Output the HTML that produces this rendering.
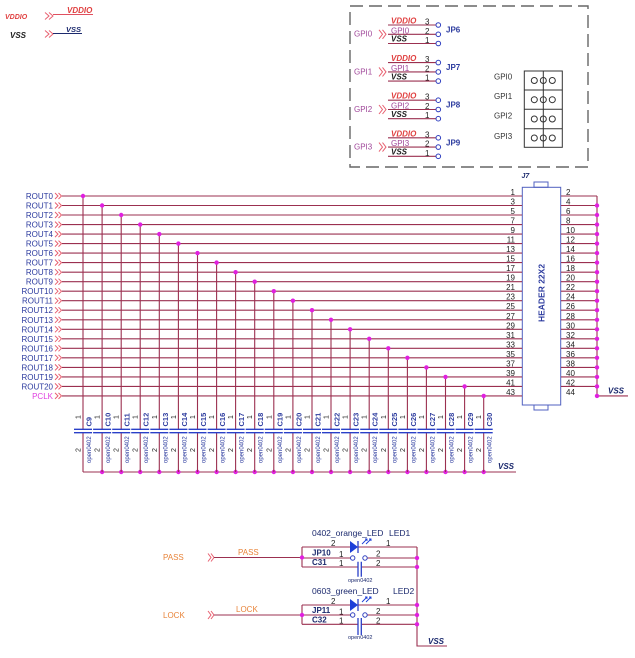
<!DOCTYPE html>
<html><head><meta charset="utf-8"><style>
body{margin:0;background:#fff}
svg{display:block;font-family:"Liberation Sans",sans-serif}
.w{stroke:#9b3050;stroke-width:1.1;fill:none}
.pl{stroke:#2a40c8;stroke-width:1.3;fill:none}
.dt{fill:#e020e0}
.rl{font-size:8px;fill:#2b3a9e;text-anchor:end}
.pn{font-size:8px;fill:#222}
.p7{font-size:7px;fill:#222}
.cl{font-size:7.5px;fill:#2b3a9e;font-weight:bold}
.on{font-size:6px;fill:#2b3a9e}
.ch{stroke:#e86070;stroke-width:1;fill:none}
.bi{font-weight:bold;font-style:italic}
.nv{fill:#1c2a6e}
.pu{fill:#a0489a;font-size:8px}
.or{fill:#e8843a;font-size:8px}
.cir{stroke:#3040c0;stroke-width:1;fill:#fff}
</style></head><body>
<svg width="635" height="658" viewBox="0 0 635 658" xmlns="http://www.w3.org/2000/svg">
<defs>
<path id="ch" class="ch" d="M0 -3L3 0L0 3M3.5 -3L6.5 0L3.5 3"/>
<path id="chb" class="ch" d="M0 -4.5L3.5 0L0 4.5M3.5 -4.5L7 0L3.5 4.5"/>
<g id="cap"><path class="w" d="M0 432.7V472"/><path class="pl" d="M-9 429.3H9M-9 432.7H9"/></g>
</defs>
<rect width="635" height="658" fill="#fff"/>

<!-- top-left -->
<text x="5" y="19" class="bi" style="font-size:7px;fill:#e04040">VDDIO</text>
<path class="ch" d="M45 12.5L49 16L45 19.5M49 12.5L53 16L49 19.5"/>
<path class="w" style="stroke:#e05060" d="M53 14.5H93"/>
<text x="67" y="13" class="bi" style="font-size:8px;fill:#e04040">VDDIO</text>
<text x="10" y="38" class="bi" style="font-size:8px;fill:#222">VSS</text>
<path class="ch" d="M45 30.5L49 34L45 37.5M49 30.5L53 34L49 37.5"/>
<path class="w" style="stroke:#1c2a6e" d="M53 33.5H82"/>
<text x="66" y="32" class="bi nv" style="font-size:7.5px">VSS</text>

<!-- dashed box -->
<rect x="350" y="6" width="238" height="161" fill="none" stroke="#666" stroke-width="1.4" stroke-dasharray="13 6"/>

<g transform="translate(0,25)">
<text x="354" y="11.7" class="pu">GPI0</text><use href="#chb" x="379" y="9.3"/>
<path class="w" d="M388 0H436M388 9.3H436M388 18.5H436"/>
<text x="391" y="-1.5" class="bi" style="font-size:8px;fill:#e04040">VDDIO</text>
<text x="391" y="8.3" class="pu">GPI0</text>
<text x="391" y="16.7" class="bi" style="font-size:8px;fill:#222">VSS</text>
<text x="425" y="-0.5" class="pn">3</text><text x="425" y="8.8" class="pn">2</text><text x="425" y="18" class="pn">1</text>
<circle cx="438.3" cy="0" r="2.3" class="cir"/><circle cx="438.3" cy="9.3" r="2.3" class="cir"/><circle cx="438.3" cy="18.5" r="2.3" class="cir"/>
<text x="446" y="7.5" style="font-size:8px;font-weight:bold;fill:#2b3a9e">JP6</text>
</g>
<g transform="translate(0,62.6)">
<text x="354" y="11.7" class="pu">GPI1</text><use href="#chb" x="379" y="9.3"/>
<path class="w" d="M388 0H436M388 9.3H436M388 18.5H436"/>
<text x="391" y="-1.5" class="bi" style="font-size:8px;fill:#e04040">VDDIO</text>
<text x="391" y="8.3" class="pu">GPI1</text>
<text x="391" y="16.7" class="bi" style="font-size:8px;fill:#222">VSS</text>
<text x="425" y="-0.5" class="pn">3</text><text x="425" y="8.8" class="pn">2</text><text x="425" y="18" class="pn">1</text>
<circle cx="438.3" cy="0" r="2.3" class="cir"/><circle cx="438.3" cy="9.3" r="2.3" class="cir"/><circle cx="438.3" cy="18.5" r="2.3" class="cir"/>
<text x="446" y="7.5" style="font-size:8px;font-weight:bold;fill:#2b3a9e">JP7</text>
</g>
<g transform="translate(0,100.2)">
<text x="354" y="11.7" class="pu">GPI2</text><use href="#chb" x="379" y="9.3"/>
<path class="w" d="M388 0H436M388 9.3H436M388 18.5H436"/>
<text x="391" y="-1.5" class="bi" style="font-size:8px;fill:#e04040">VDDIO</text>
<text x="391" y="8.3" class="pu">GPI2</text>
<text x="391" y="16.7" class="bi" style="font-size:8px;fill:#222">VSS</text>
<text x="425" y="-0.5" class="pn">3</text><text x="425" y="8.8" class="pn">2</text><text x="425" y="18" class="pn">1</text>
<circle cx="438.3" cy="0" r="2.3" class="cir"/><circle cx="438.3" cy="9.3" r="2.3" class="cir"/><circle cx="438.3" cy="18.5" r="2.3" class="cir"/>
<text x="446" y="7.5" style="font-size:8px;font-weight:bold;fill:#2b3a9e">JP8</text>
</g>
<g transform="translate(0,137.8)">
<text x="354" y="11.7" class="pu">GPI3</text><use href="#chb" x="379" y="9.3"/>
<path class="w" d="M388 0H436M388 9.3H436M388 18.5H436"/>
<text x="391" y="-1.5" class="bi" style="font-size:8px;fill:#e04040">VDDIO</text>
<text x="391" y="8.3" class="pu">GPI3</text>
<text x="391" y="16.7" class="bi" style="font-size:8px;fill:#222">VSS</text>
<text x="425" y="-0.5" class="pn">3</text><text x="425" y="8.8" class="pn">2</text><text x="425" y="18" class="pn">1</text>
<circle cx="438.3" cy="0" r="2.3" class="cir"/><circle cx="438.3" cy="9.3" r="2.3" class="cir"/><circle cx="438.3" cy="18.5" r="2.3" class="cir"/>
<text x="446" y="7.5" style="font-size:8px;font-weight:bold;fill:#2b3a9e">JP9</text>
</g>

<!-- jumper table -->
<text x="494" y="79.5" class="pn" style="fill:#333">GPI0</text>
<text x="494" y="99" class="pn" style="fill:#333">GPI1</text>
<text x="494" y="118.5" class="pn" style="fill:#333">GPI2</text>
<text x="494" y="139" class="pn" style="fill:#333">GPI3</text>
<rect x="524.3" y="71" width="38" height="76.3" fill="none" stroke="#333" stroke-width="1"/>
<path d="M524.3 90H562.3M524.3 109.3H562.3M524.3 128.7H562.3" stroke="#333" stroke-width="1" fill="none"/>
<g fill="#fff" stroke="#333" stroke-width="1">
<circle cx="534.3" cy="80.5" r="3"/><circle cx="543.3" cy="80.5" r="3"/><circle cx="552.3" cy="80.5" r="3"/>
<circle cx="534.3" cy="99.7" r="3"/><circle cx="543.3" cy="99.7" r="3"/><circle cx="552.3" cy="99.7" r="3"/>
<circle cx="534.3" cy="119" r="3"/><circle cx="543.3" cy="119" r="3"/><circle cx="552.3" cy="119" r="3"/>
<circle cx="534.3" cy="138" r="3"/><circle cx="543.3" cy="138" r="3"/><circle cx="552.3" cy="138" r="3"/>
</g>
<path d="M543.3 71V147.3" stroke="#333" stroke-width="1"/>

<!-- J7 header -->
<text x="521.5" y="178" class="bi nv" style="font-size:7px">J7</text>
<rect x="534" y="182" width="14" height="5.3" fill="#fff" stroke="#5060c0" stroke-width="1"/>
<rect x="534" y="405" width="14" height="5" fill="#fff" stroke="#5060c0" stroke-width="1"/>
<rect x="522.3" y="187.3" width="38.4" height="217.7" fill="none" stroke="#5060c0" stroke-width="1"/>
<text transform="translate(544.5,293) rotate(-90)" text-anchor="middle" style="font-size:8.5px;font-weight:bold;fill:#2b3a9e">HEADER 22X2</text>

<!-- main horizontal wires -->
<path class="w" d="M62 196H522M62 205.5H522M62 215H522M62 224.6H522M62 234.1H522M62 243.6H522M62 253.1H522M62 262.6H522M62 272.2H522M62 281.7H522M62 291.2H522M62 300.7H522M62 310.2H522M62 319.8H522M62 329.3H522M62 338.8H522M62 348.3H522M62 357.8H522M62 367.4H522M62 376.9H522M62 386.4H522M62 395.9H522"/>
<path class="w" d="M561 196H597M561 205.5H597M561 215H597M561 224.6H597M561 234.1H597M561 243.6H597M561 253.1H597M561 262.6H597M561 272.2H597M561 281.7H597M561 291.2H597M561 300.7H597M561 310.2H597M561 319.8H597M561 329.3H597M561 338.8H597M561 348.3H597M561 357.8H597M561 367.4H597M561 376.9H597M561 386.4H597M597 196V395.9H628"/>
<text x="608" y="393.5" class="bi nv" style="font-size:8px">VSS</text>

<!-- rows -->
<g transform="translate(0,196)"><text x="53" y="3" class="rl">ROUT0</text><use href="#ch" x="55"/><text x="515" y="-1" class="pn" text-anchor="end">1</text><text x="566" y="-1" class="pn">2</text></g>
<g transform="translate(0,205.5)"><text x="53" y="3" class="rl">ROUT1</text><use href="#ch" x="55"/><text x="515" y="-1" class="pn" text-anchor="end">3</text><text x="566" y="-1" class="pn">4</text><circle cx="597" r="2.2" class="dt"/></g>
<g transform="translate(0,215)"><text x="53" y="3" class="rl">ROUT2</text><use href="#ch" x="55"/><text x="515" y="-1" class="pn" text-anchor="end">5</text><text x="566" y="-1" class="pn">6</text><circle cx="597" r="2.2" class="dt"/></g>
<g transform="translate(0,224.6)"><text x="53" y="3" class="rl">ROUT3</text><use href="#ch" x="55"/><text x="515" y="-1" class="pn" text-anchor="end">7</text><text x="566" y="-1" class="pn">8</text><circle cx="597" r="2.2" class="dt"/></g>
<g transform="translate(0,234.1)"><text x="53" y="3" class="rl">ROUT4</text><use href="#ch" x="55"/><text x="515" y="-1" class="pn" text-anchor="end">9</text><text x="566" y="-1" class="pn">10</text><circle cx="597" r="2.2" class="dt"/></g>
<g transform="translate(0,243.6)"><text x="53" y="3" class="rl">ROUT5</text><use href="#ch" x="55"/><text x="515" y="-1" class="pn" text-anchor="end">11</text><text x="566" y="-1" class="pn">12</text><circle cx="597" r="2.2" class="dt"/></g>
<g transform="translate(0,253.1)"><text x="53" y="3" class="rl">ROUT6</text><use href="#ch" x="55"/><text x="515" y="-1" class="pn" text-anchor="end">13</text><text x="566" y="-1" class="pn">14</text><circle cx="597" r="2.2" class="dt"/></g>
<g transform="translate(0,262.6)"><text x="53" y="3" class="rl">ROUT7</text><use href="#ch" x="55"/><text x="515" y="-1" class="pn" text-anchor="end">15</text><text x="566" y="-1" class="pn">16</text><circle cx="597" r="2.2" class="dt"/></g>
<g transform="translate(0,272.2)"><text x="53" y="3" class="rl">ROUT8</text><use href="#ch" x="55"/><text x="515" y="-1" class="pn" text-anchor="end">17</text><text x="566" y="-1" class="pn">18</text><circle cx="597" r="2.2" class="dt"/></g>
<g transform="translate(0,281.7)"><text x="53" y="3" class="rl">ROUT9</text><use href="#ch" x="55"/><text x="515" y="-1" class="pn" text-anchor="end">19</text><text x="566" y="-1" class="pn">20</text><circle cx="597" r="2.2" class="dt"/></g>
<g transform="translate(0,291.2)"><text x="53" y="3" class="rl">ROUT10</text><use href="#ch" x="55"/><text x="515" y="-1" class="pn" text-anchor="end">21</text><text x="566" y="-1" class="pn">22</text><circle cx="597" r="2.2" class="dt"/></g>
<g transform="translate(0,300.7)"><text x="53" y="3" class="rl">ROUT11</text><use href="#ch" x="55"/><text x="515" y="-1" class="pn" text-anchor="end">23</text><text x="566" y="-1" class="pn">24</text><circle cx="597" r="2.2" class="dt"/></g>
<g transform="translate(0,310.2)"><text x="53" y="3" class="rl">ROUT12</text><use href="#ch" x="55"/><text x="515" y="-1" class="pn" text-anchor="end">25</text><text x="566" y="-1" class="pn">26</text><circle cx="597" r="2.2" class="dt"/></g>
<g transform="translate(0,319.8)"><text x="53" y="3" class="rl">ROUT13</text><use href="#ch" x="55"/><text x="515" y="-1" class="pn" text-anchor="end">27</text><text x="566" y="-1" class="pn">28</text><circle cx="597" r="2.2" class="dt"/></g>
<g transform="translate(0,329.3)"><text x="53" y="3" class="rl">ROUT14</text><use href="#ch" x="55"/><text x="515" y="-1" class="pn" text-anchor="end">29</text><text x="566" y="-1" class="pn">30</text><circle cx="597" r="2.2" class="dt"/></g>
<g transform="translate(0,338.8)"><text x="53" y="3" class="rl">ROUT15</text><use href="#ch" x="55"/><text x="515" y="-1" class="pn" text-anchor="end">31</text><text x="566" y="-1" class="pn">32</text><circle cx="597" r="2.2" class="dt"/></g>
<g transform="translate(0,348.3)"><text x="53" y="3" class="rl">ROUT16</text><use href="#ch" x="55"/><text x="515" y="-1" class="pn" text-anchor="end">33</text><text x="566" y="-1" class="pn">34</text><circle cx="597" r="2.2" class="dt"/></g>
<g transform="translate(0,357.8)"><text x="53" y="3" class="rl">ROUT17</text><use href="#ch" x="55"/><text x="515" y="-1" class="pn" text-anchor="end">35</text><text x="566" y="-1" class="pn">36</text><circle cx="597" r="2.2" class="dt"/></g>
<g transform="translate(0,367.4)"><text x="53" y="3" class="rl">ROUT18</text><use href="#ch" x="55"/><text x="515" y="-1" class="pn" text-anchor="end">37</text><text x="566" y="-1" class="pn">38</text><circle cx="597" r="2.2" class="dt"/></g>
<g transform="translate(0,376.9)"><text x="53" y="3" class="rl">ROUT19</text><use href="#ch" x="55"/><text x="515" y="-1" class="pn" text-anchor="end">39</text><text x="566" y="-1" class="pn">40</text><circle cx="597" r="2.2" class="dt"/></g>
<g transform="translate(0,386.4)"><text x="53" y="3" class="rl">ROUT20</text><use href="#ch" x="55"/><text x="515" y="-1" class="pn" text-anchor="end">41</text><text x="566" y="-1" class="pn">42</text><circle cx="597" r="2.2" class="dt"/></g>
<g transform="translate(0,395.9)"><text x="53" y="3" class="rl" style="fill:#e040e0">PCLK</text><use href="#ch" x="55"/><text x="515" y="-1" class="pn" text-anchor="end">43</text><text x="566" y="-1" class="pn">44</text><circle cx="597" r="2.2" class="dt"/></g>

<!-- vertical drops -->
<path class="w" d="M83 196V429.3M102.1 205.5V429.3M121.2 215V429.3M140.2 224.6V429.3M159.3 234.1V429.3M178.4 243.6V429.3M197.5 253.1V429.3M216.6 262.6V429.3M235.6 272.2V429.3M254.7 281.7V429.3M273.8 291.2V429.3M292.9 300.7V429.3M312 310.2V429.3M331 319.8V429.3M350.1 329.3V429.3M369.2 338.8V429.3M388.3 348.3V429.3M407.4 357.8V429.3M426.4 367.4V429.3M445.5 376.9V429.3M464.6 386.4V429.3M483.7 395.9V429.3"/>
<path class="w" d="M83 472H516"/>
<text x="498" y="469" class="bi nv" style="font-size:8px">VSS</text>
<g class="dt">
<circle cx="83" cy="196" r="2.2"/><circle cx="102.1" cy="205.5" r="2.2"/><circle cx="121.2" cy="215" r="2.2"/><circle cx="140.2" cy="224.6" r="2.2"/><circle cx="159.3" cy="234.1" r="2.2"/><circle cx="178.4" cy="243.6" r="2.2"/><circle cx="197.5" cy="253.1" r="2.2"/><circle cx="216.6" cy="262.6" r="2.2"/><circle cx="235.6" cy="272.2" r="2.2"/><circle cx="254.7" cy="281.7" r="2.2"/><circle cx="273.8" cy="291.2" r="2.2"/><circle cx="292.9" cy="300.7" r="2.2"/><circle cx="312" cy="310.2" r="2.2"/><circle cx="331" cy="319.8" r="2.2"/><circle cx="350.1" cy="329.3" r="2.2"/><circle cx="369.2" cy="338.8" r="2.2"/><circle cx="388.3" cy="348.3" r="2.2"/><circle cx="407.4" cy="357.8" r="2.2"/><circle cx="426.4" cy="367.4" r="2.2"/><circle cx="445.5" cy="376.9" r="2.2"/><circle cx="464.6" cy="386.4" r="2.2"/><circle cx="483.7" cy="395.9" r="2.2"/>
<circle cx="102.1" cy="472" r="2.2"/><circle cx="121.2" cy="472" r="2.2"/><circle cx="140.2" cy="472" r="2.2"/><circle cx="159.3" cy="472" r="2.2"/><circle cx="178.4" cy="472" r="2.2"/><circle cx="197.5" cy="472" r="2.2"/><circle cx="216.6" cy="472" r="2.2"/><circle cx="235.6" cy="472" r="2.2"/><circle cx="254.7" cy="472" r="2.2"/><circle cx="273.8" cy="472" r="2.2"/><circle cx="292.9" cy="472" r="2.2"/><circle cx="312" cy="472" r="2.2"/><circle cx="331" cy="472" r="2.2"/><circle cx="350.1" cy="472" r="2.2"/><circle cx="369.2" cy="472" r="2.2"/><circle cx="388.3" cy="472" r="2.2"/><circle cx="407.4" cy="472" r="2.2"/><circle cx="426.4" cy="472" r="2.2"/><circle cx="445.5" cy="472" r="2.2"/><circle cx="464.6" cy="472" r="2.2"/><circle cx="483.7" cy="472" r="2.2"/>
</g>

<!-- capacitors -->
<g transform="translate(83,0)"><use href="#cap"/><text class="cl" transform="translate(8.5,426.5) rotate(-90)">C9</text><text class="on" transform="translate(8,463) rotate(-90)">open0402</text><text class="p7" transform="translate(-2.5,419) rotate(-90)">1</text><text class="p7" transform="translate(-2.5,452) rotate(-90)">2</text></g>
<g transform="translate(102.1,0)"><use href="#cap"/><text class="cl" transform="translate(8.5,426.5) rotate(-90)">C10</text><text class="on" transform="translate(8,463) rotate(-90)">open0402</text><text class="p7" transform="translate(-2.5,419) rotate(-90)">1</text><text class="p7" transform="translate(-2.5,452) rotate(-90)">2</text></g>
<g transform="translate(121.2,0)"><use href="#cap"/><text class="cl" transform="translate(8.5,426.5) rotate(-90)">C11</text><text class="on" transform="translate(8,463) rotate(-90)">open0402</text><text class="p7" transform="translate(-2.5,419) rotate(-90)">1</text><text class="p7" transform="translate(-2.5,452) rotate(-90)">2</text></g>
<g transform="translate(140.2,0)"><use href="#cap"/><text class="cl" transform="translate(8.5,426.5) rotate(-90)">C12</text><text class="on" transform="translate(8,463) rotate(-90)">open0402</text><text class="p7" transform="translate(-2.5,419) rotate(-90)">1</text><text class="p7" transform="translate(-2.5,452) rotate(-90)">2</text></g>
<g transform="translate(159.3,0)"><use href="#cap"/><text class="cl" transform="translate(8.5,426.5) rotate(-90)">C13</text><text class="on" transform="translate(8,463) rotate(-90)">open0402</text><text class="p7" transform="translate(-2.5,419) rotate(-90)">1</text><text class="p7" transform="translate(-2.5,452) rotate(-90)">2</text></g>
<g transform="translate(178.4,0)"><use href="#cap"/><text class="cl" transform="translate(8.5,426.5) rotate(-90)">C14</text><text class="on" transform="translate(8,463) rotate(-90)">open0402</text><text class="p7" transform="translate(-2.5,419) rotate(-90)">1</text><text class="p7" transform="translate(-2.5,452) rotate(-90)">2</text></g>
<g transform="translate(197.5,0)"><use href="#cap"/><text class="cl" transform="translate(8.5,426.5) rotate(-90)">C15</text><text class="on" transform="translate(8,463) rotate(-90)">open0402</text><text class="p7" transform="translate(-2.5,419) rotate(-90)">1</text><text class="p7" transform="translate(-2.5,452) rotate(-90)">2</text></g>
<g transform="translate(216.6,0)"><use href="#cap"/><text class="cl" transform="translate(8.5,426.5) rotate(-90)">C16</text><text class="on" transform="translate(8,463) rotate(-90)">open0402</text><text class="p7" transform="translate(-2.5,419) rotate(-90)">1</text><text class="p7" transform="translate(-2.5,452) rotate(-90)">2</text></g>
<g transform="translate(235.6,0)"><use href="#cap"/><text class="cl" transform="translate(8.5,426.5) rotate(-90)">C17</text><text class="on" transform="translate(8,463) rotate(-90)">open0402</text><text class="p7" transform="translate(-2.5,419) rotate(-90)">1</text><text class="p7" transform="translate(-2.5,452) rotate(-90)">2</text></g>
<g transform="translate(254.7,0)"><use href="#cap"/><text class="cl" transform="translate(8.5,426.5) rotate(-90)">C18</text><text class="on" transform="translate(8,463) rotate(-90)">open0402</text><text class="p7" transform="translate(-2.5,419) rotate(-90)">1</text><text class="p7" transform="translate(-2.5,452) rotate(-90)">2</text></g>
<g transform="translate(273.8,0)"><use href="#cap"/><text class="cl" transform="translate(8.5,426.5) rotate(-90)">C19</text><text class="on" transform="translate(8,463) rotate(-90)">open0402</text><text class="p7" transform="translate(-2.5,419) rotate(-90)">1</text><text class="p7" transform="translate(-2.5,452) rotate(-90)">2</text></g>
<g transform="translate(292.9,0)"><use href="#cap"/><text class="cl" transform="translate(8.5,426.5) rotate(-90)">C20</text><text class="on" transform="translate(8,463) rotate(-90)">open0402</text><text class="p7" transform="translate(-2.5,419) rotate(-90)">1</text><text class="p7" transform="translate(-2.5,452) rotate(-90)">2</text></g>
<g transform="translate(312,0)"><use href="#cap"/><text class="cl" transform="translate(8.5,426.5) rotate(-90)">C21</text><text class="on" transform="translate(8,463) rotate(-90)">open0402</text><text class="p7" transform="translate(-2.5,419) rotate(-90)">1</text><text class="p7" transform="translate(-2.5,452) rotate(-90)">2</text></g>
<g transform="translate(331,0)"><use href="#cap"/><text class="cl" transform="translate(8.5,426.5) rotate(-90)">C22</text><text class="on" transform="translate(8,463) rotate(-90)">open0402</text><text class="p7" transform="translate(-2.5,419) rotate(-90)">1</text><text class="p7" transform="translate(-2.5,452) rotate(-90)">2</text></g>
<g transform="translate(350.1,0)"><use href="#cap"/><text class="cl" transform="translate(8.5,426.5) rotate(-90)">C23</text><text class="on" transform="translate(8,463) rotate(-90)">open0402</text><text class="p7" transform="translate(-2.5,419) rotate(-90)">1</text><text class="p7" transform="translate(-2.5,452) rotate(-90)">2</text></g>
<g transform="translate(369.2,0)"><use href="#cap"/><text class="cl" transform="translate(8.5,426.5) rotate(-90)">C24</text><text class="on" transform="translate(8,463) rotate(-90)">open0402</text><text class="p7" transform="translate(-2.5,419) rotate(-90)">1</text><text class="p7" transform="translate(-2.5,452) rotate(-90)">2</text></g>
<g transform="translate(388.3,0)"><use href="#cap"/><text class="cl" transform="translate(8.5,426.5) rotate(-90)">C25</text><text class="on" transform="translate(8,463) rotate(-90)">open0402</text><text class="p7" transform="translate(-2.5,419) rotate(-90)">1</text><text class="p7" transform="translate(-2.5,452) rotate(-90)">2</text></g>
<g transform="translate(407.4,0)"><use href="#cap"/><text class="cl" transform="translate(8.5,426.5) rotate(-90)">C26</text><text class="on" transform="translate(8,463) rotate(-90)">open0402</text><text class="p7" transform="translate(-2.5,419) rotate(-90)">1</text><text class="p7" transform="translate(-2.5,452) rotate(-90)">2</text></g>
<g transform="translate(426.4,0)"><use href="#cap"/><text class="cl" transform="translate(8.5,426.5) rotate(-90)">C27</text><text class="on" transform="translate(8,463) rotate(-90)">open0402</text><text class="p7" transform="translate(-2.5,419) rotate(-90)">1</text><text class="p7" transform="translate(-2.5,452) rotate(-90)">2</text></g>
<g transform="translate(445.5,0)"><use href="#cap"/><text class="cl" transform="translate(8.5,426.5) rotate(-90)">C28</text><text class="on" transform="translate(8,463) rotate(-90)">open0402</text><text class="p7" transform="translate(-2.5,419) rotate(-90)">1</text><text class="p7" transform="translate(-2.5,452) rotate(-90)">2</text></g>
<g transform="translate(464.6,0)"><use href="#cap"/><text class="cl" transform="translate(8.5,426.5) rotate(-90)">C29</text><text class="on" transform="translate(8,463) rotate(-90)">open0402</text><text class="p7" transform="translate(-2.5,419) rotate(-90)">1</text><text class="p7" transform="translate(-2.5,452) rotate(-90)">2</text></g>
<g transform="translate(483.7,0)"><use href="#cap"/><text class="cl" transform="translate(8.5,426.5) rotate(-90)">C30</text><text class="on" transform="translate(8,463) rotate(-90)">open0402</text><text class="p7" transform="translate(-2.5,419) rotate(-90)">1</text><text class="p7" transform="translate(-2.5,452) rotate(-90)">2</text></g>

<!-- LED section -->
<text x="163" y="560" class="or">PASS</text>
<path class="ch" d="M208 553.5L211 557.5L208 561.5M211 553.5L214 557.5L211 561.5"/>
<text x="238" y="555" class="or">PASS</text>
<text x="163" y="618" class="or">LOCK</text>
<path class="ch" d="M208 611L211 615L208 619M211 611L214 615L211 619"/>
<text x="236" y="612" class="or">LOCK</text>

<path class="w" d="M214 557.5H302M302 547V567M302 547H350M358 547H417M302 558H350.5M367.2 558H417M302 567H358M361.3 567H417"/>
<path class="w" d="M214 615H302M302 605V624.3M302 605H350M358 605H417M302 615H350.5M367.2 615H417M302 624.3H358M361.3 624.3H417"/>
<path class="w" d="M417 547V646H447"/>
<text x="428" y="644" class="bi nv" style="font-size:8px">VSS</text>

<g fill="#1d3fd8"><polygon points="350,541 350,553 358,547"/><polygon points="350,599 350,611 358,605"/></g>
<path class="pl" d="M358 541V553M358 599V611M358 561.7V576.7M361.3 561.7V576.7M358 618V635M361.3 618V635"/>
<path stroke="#1d3fd8" stroke-width="0.9" fill="none" d="M362 544L367 539M365 539H367V541M366 544L371 539M369 539H371V541M362 602L367 597M365 597H367V599M366 602L371 597M369 597H371V599"/>
<circle cx="352.7" cy="558" r="2.2" class="cir"/><circle cx="365" cy="558" r="2.2" class="cir"/>
<circle cx="352.7" cy="615" r="2.2" class="cir"/><circle cx="365" cy="615" r="2.2" class="cir"/>

<g class="dt">
<circle cx="302" cy="557.5" r="2.2"/><circle cx="417" cy="558" r="2.2"/><circle cx="417" cy="567" r="2.2"/>
<circle cx="302" cy="615" r="2.2"/><circle cx="417" cy="605" r="2.2"/><circle cx="417" cy="615" r="2.2"/><circle cx="417" cy="624.3" r="2.2"/>
</g>

<text x="312" y="536" class="nv" style="font-size:8.5px">0402_orange_LED</text>
<text x="389" y="536" class="nv" style="font-size:8.5px">LED1</text>
<text x="331" y="546" class="pn">2</text><text x="386" y="546" class="pn">1</text>
<text x="312" y="555.5" class="nv" style="font-size:8px;font-weight:bold">JP10</text>
<text x="312" y="565" class="nv" style="font-size:8px;font-weight:bold">C31</text>
<text x="339" y="557" class="pn">1</text><text x="376" y="556.5" class="pn">2</text>
<text x="339" y="566" class="pn">1</text><text x="376" y="566" class="pn">2</text>
<text x="348" y="582" class="on nv" style="font-size:5.5px">open0402</text>

<text x="312" y="594" class="nv" style="font-size:8.5px">0603_green_LED</text>
<text x="393" y="594" class="nv" style="font-size:8.5px">LED2</text>
<text x="331" y="604" class="pn">2</text><text x="386" y="604" class="pn">1</text>
<text x="312" y="613" class="nv" style="font-size:8px;font-weight:bold">JP11</text>
<text x="312" y="622.5" class="nv" style="font-size:8px;font-weight:bold">C32</text>
<text x="339" y="614.5" class="pn">1</text><text x="376" y="614" class="pn">2</text>
<text x="339" y="623.5" class="pn">1</text><text x="376" y="623.5" class="pn">2</text>
<text x="348" y="639" class="on nv" style="font-size:5.5px">open0402</text>
</svg>
</body></html>
